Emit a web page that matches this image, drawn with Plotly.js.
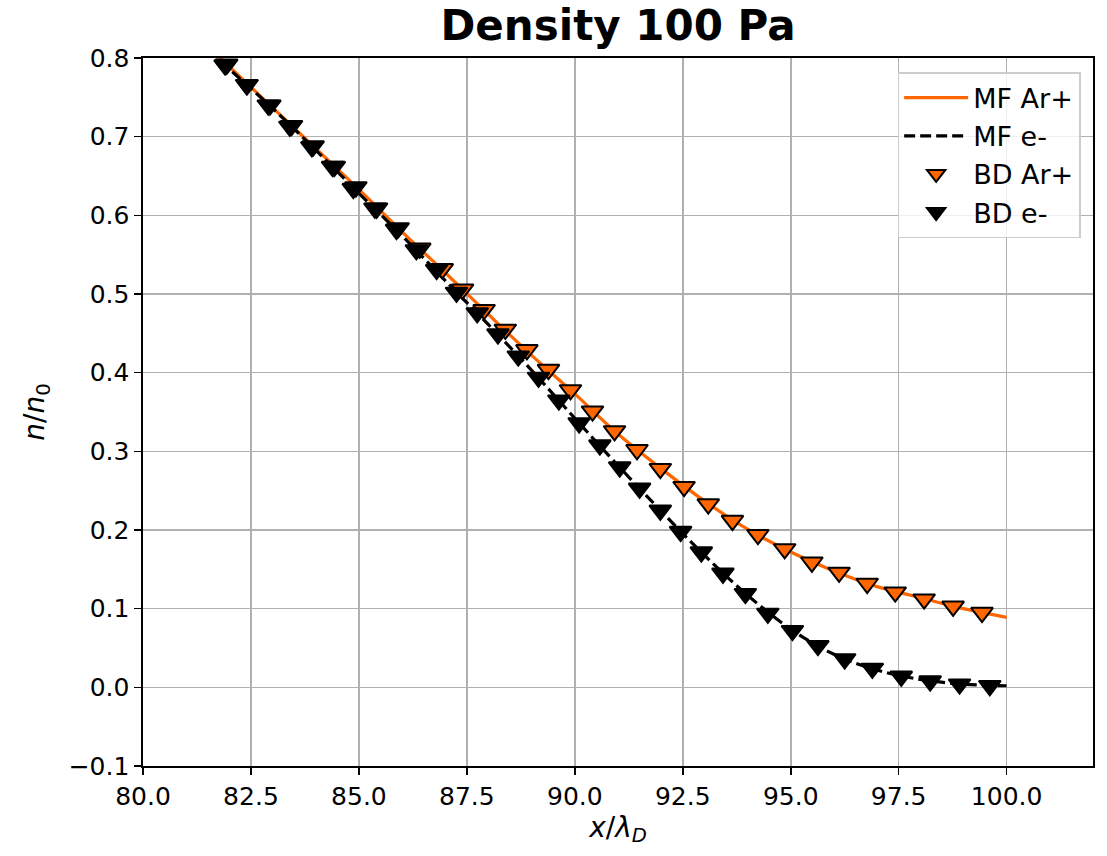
<!DOCTYPE html>
<html>
<head>
<meta charset="utf-8">
<script src="https://cdn.plot.ly/plotly-3.0.1.min.js"></script>
<style>html,body{margin:0;padding:0;background:#fff;}#chart{width:1107px;height:856px;}</style>
</head>
<body>
<div id="chart"></div>
<script>
// MF (continuous) profiles
const mfX   = [81, 82, 83, 84, 85, 86, 87, 88, 89, 90, 91, 92, 93, 94, 95, 96, 97, 98, 99, 100];
const mfArY = [0.842, 0.789, 0.737, 0.685, 0.633, 0.579, 0.527, 0.474, 0.422, 0.373, 0.322, 0.278, 0.237, 0.201, 0.172, 0.148, 0.128, 0.114, 0.100, 0.089];
const mfEY  = [0.839, 0.786, 0.736, 0.683, 0.628, 0.574, 0.517, 0.461, 0.403, 0.342, 0.282, 0.224, 0.168, 0.117, 0.074, 0.042, 0.022, 0.010, 0.004, 0.002];

// BD (discrete) samples
const bdArX = [81.94, 82.41, 82.94, 83.44, 83.94, 84.43, 84.93, 85.41, 85.91, 86.41, 86.93, 87.40, 87.90, 88.39, 88.89, 89.39, 89.90, 90.41, 90.92, 91.44, 91.98, 92.53, 93.09, 93.65, 94.24, 94.86, 95.49, 96.12, 96.77, 97.42, 98.09, 98.76, 99.43];
const bdArY = [0.792, 0.766, 0.740, 0.714, 0.688, 0.662, 0.636, 0.609, 0.584, 0.558, 0.532, 0.506, 0.480, 0.455, 0.429, 0.404, 0.378, 0.351, 0.326, 0.302, 0.278, 0.255, 0.233, 0.212, 0.194, 0.176, 0.159, 0.146, 0.132, 0.121, 0.112, 0.103, 0.095];
const bdEX  = [81.90, 82.40, 82.90, 83.40, 83.91, 84.39, 84.87, 85.37, 85.87, 86.33, 86.80, 87.26, 87.74, 88.22, 88.69, 89.16, 89.63, 90.10, 90.58, 91.04, 91.50, 91.98, 92.45, 92.93, 93.43, 93.95, 94.47, 95.04, 95.63, 96.25, 96.89, 97.56, 98.23, 98.91, 99.61];
const bdEY  = [0.791, 0.766, 0.740, 0.713, 0.687, 0.662, 0.634, 0.609, 0.582, 0.556, 0.531, 0.502, 0.476, 0.449, 0.421, 0.394, 0.365, 0.336, 0.308, 0.280, 0.253, 0.225, 0.198, 0.172, 0.145, 0.119, 0.094, 0.072, 0.053, 0.036, 0.024, 0.014, 0.008, 0.004, 0.002];

const seriesNames = ['MF Ar+', 'MF e-', 'BD Ar+', 'BD e-'];
const xTicks = [80, 82.5, 85, 87.5, 90, 92.5, 95, 97.5, 100];
const yTicks = [-0.1, 0, 0.1, 0.2, 0.3, 0.4, 0.5, 0.6, 0.7, 0.8];

const ORANGE = '#ff6600';
const FONT = 'DejaVu Sans, sans-serif';

const traces = [
  {x: mfX, y: mfArY, name: seriesNames[0], type: 'scatter', mode: 'lines', legendgroup: 'a',
   line: {color: ORANGE, width: 3.2, shape: 'spline'}},
  {x: mfX, y: mfEY, name: seriesNames[1], type: 'scatter', mode: 'lines', legendgroup: 'b',
   line: {color: '#000000', width: 3.2, dash: '11px,5px', shape: 'spline'}},
  {x: bdArX, y: bdArY, name: seriesNames[2], type: 'scatter', mode: 'markers', legendgroup: 'c',
   marker: {symbol: 'triangle-down', size: 19, color: ORANGE, line: {color: '#000000', width: 2}}},
  {x: bdEX, y: bdEY, name: seriesNames[3], type: 'scatter', mode: 'markers', legendgroup: 'd',
   marker: {symbol: 'triangle-down', size: 19, color: '#000000', line: {color: '#000000', width: 2}}}
];

const axisCommon = {
  showgrid: true, gridcolor: '#b0b0b0', gridwidth: 1.6,
  showline: true, linecolor: '#000000', linewidth: 1.6, mirror: true,
  ticks: 'outside', ticklen: 7, tickwidth: 1.6, tickcolor: '#000000',
  tickfont: {family: FONT, size: 25, color: '#000000'},
  zeroline: false, tickformat: '.1f'
};

const layout = {
  width: 1107, height: 856,
  margin: {l: 143, r: 14, t: 58, b: 90},
  paper_bgcolor: '#ffffff', plot_bgcolor: '#ffffff',
  font: {family: FONT, color: '#000000'},
  title: {text: '<b>Density 100 Pa</b>', font: {family: FONT, size: 42, color: '#000000'},
          xref: 'paper', x: 0.5, xanchor: 'center', y: 0.971, yanchor: 'middle'},
  xaxis: Object.assign({}, axisCommon, {
    range: [80, 102], tickmode: 'array', tickvals: xTicks,
    title: {text: '<i>x</i>/<i>λ</i><sub><i>D</i></sub>', font: {family: FONT, size: 28, color: '#000000'}, standoff: 6}
  }),
  yaxis: Object.assign({}, axisCommon, {
    range: [-0.1, 0.8], tickmode: 'array', tickvals: yTicks,
    title: {text: '<i>n</i>/<i>n</i><sub>0</sub>', font: {family: FONT, size: 28, color: '#000000'}, standoff: 16}
  }),
  showlegend: true,
  legend: {
    x: 0.987, y: 0.98, xanchor: 'right', yanchor: 'top',
    bgcolor: 'rgba(255,255,255,0.8)', bordercolor: '#cccccc', borderwidth: 1.5,
    font: {family: FONT, size: 27, color: '#000000'},
    traceorder: 'grouped', tracegroupgap: 0, itemwidth: 64
  }
};

Plotly.newPlot('chart', traces, layout, {displayModeBar: false, staticPlot: true});
</script>
</body>
</html>
